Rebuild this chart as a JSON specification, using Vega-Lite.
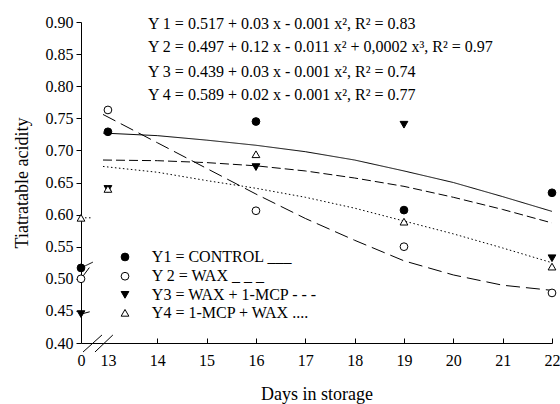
{
  "$schema": "https://vega.github.io/schema/vega-lite/v6.json",
  "autosize": {"type": "none"},
  "width": 471,
  "height": 321,
  "padding": {"left": 81, "top": 22, "right": 8, "bottom": 61},
  "background": "white",
  "config": {
    "font": "Liberation Serif",
    "view": {"stroke": null},
    "axis": {
      "labelFont": "Liberation Serif",
      "titleFont": "Liberation Serif",
      "labelFontSize": 16,
      "titleFontSize": 18,
      "titleFontWeight": "normal",
      "labelColor": "black",
      "titleColor": "black",
      "domainColor": "black",
      "tickColor": "black",
      "labelOverlap": false,
      "labelBound": false,
      "grid": false
    }
  },
  "datasets": {
    "pts": [
      {"day": 0, "acid": 0.517, "trt": "CONTROL"},
      {"day": 13, "acid": 0.729, "trt": "CONTROL"},
      {"day": 16, "acid": 0.745, "trt": "CONTROL"},
      {"day": 19, "acid": 0.607, "trt": "CONTROL"},
      {"day": 22, "acid": 0.634, "trt": "CONTROL"},
      {"day": 0, "acid": 0.500, "trt": "WAX"},
      {"day": 13, "acid": 0.763, "trt": "WAX"},
      {"day": 16, "acid": 0.606, "trt": "WAX"},
      {"day": 19, "acid": 0.550, "trt": "WAX"},
      {"day": 22, "acid": 0.478, "trt": "WAX"},
      {"day": 0, "acid": 0.445, "trt": "WAX + 1-MCP"},
      {"day": 13, "acid": 0.640, "trt": "WAX + 1-MCP"},
      {"day": 16, "acid": 0.674, "trt": "WAX + 1-MCP"},
      {"day": 19, "acid": 0.740, "trt": "WAX + 1-MCP"},
      {"day": 22, "acid": 0.532, "trt": "WAX + 1-MCP"},
      {"day": 0, "acid": 0.595, "trt": "1-MCP + WAX"},
      {"day": 13, "acid": 0.640, "trt": "1-MCP + WAX"},
      {"day": 16, "acid": 0.694, "trt": "1-MCP + WAX"},
      {"day": 19, "acid": 0.589, "trt": "1-MCP + WAX"},
      {"day": 22, "acid": 0.519, "trt": "1-MCP + WAX"}
    ],
    "fits": [
      {"day": 12.9, "acid": 0.727, "trt": "CONTROL"},
      {"day": 14, "acid": 0.723, "trt": "CONTROL"},
      {"day": 15, "acid": 0.716, "trt": "CONTROL"},
      {"day": 16, "acid": 0.708, "trt": "CONTROL"},
      {"day": 17, "acid": 0.698, "trt": "CONTROL"},
      {"day": 18, "acid": 0.685, "trt": "CONTROL"},
      {"day": 19, "acid": 0.668, "trt": "CONTROL"},
      {"day": 20, "acid": 0.650, "trt": "CONTROL"},
      {"day": 21, "acid": 0.628, "trt": "CONTROL"},
      {"day": 22, "acid": 0.605, "trt": "CONTROL"},
      {"day": 12.9, "acid": 0.756, "trt": "WAX"},
      {"day": 14, "acid": 0.712, "trt": "WAX"},
      {"day": 15, "acid": 0.672, "trt": "WAX"},
      {"day": 16, "acid": 0.632, "trt": "WAX"},
      {"day": 17, "acid": 0.594, "trt": "WAX"},
      {"day": 18, "acid": 0.560, "trt": "WAX"},
      {"day": 19, "acid": 0.528, "trt": "WAX"},
      {"day": 20, "acid": 0.506, "trt": "WAX"},
      {"day": 21, "acid": 0.490, "trt": "WAX"},
      {"day": 22, "acid": 0.482, "trt": "WAX"},
      {"day": 12.9, "acid": 0.685, "trt": "WAX + 1-MCP"},
      {"day": 14, "acid": 0.684, "trt": "WAX + 1-MCP"},
      {"day": 15, "acid": 0.681, "trt": "WAX + 1-MCP"},
      {"day": 16, "acid": 0.676, "trt": "WAX + 1-MCP"},
      {"day": 17, "acid": 0.668, "trt": "WAX + 1-MCP"},
      {"day": 18, "acid": 0.657, "trt": "WAX + 1-MCP"},
      {"day": 19, "acid": 0.644, "trt": "WAX + 1-MCP"},
      {"day": 20, "acid": 0.627, "trt": "WAX + 1-MCP"},
      {"day": 21, "acid": 0.608, "trt": "WAX + 1-MCP"},
      {"day": 22, "acid": 0.587, "trt": "WAX + 1-MCP"},
      {"day": 12.9, "acid": 0.675, "trt": "1-MCP + WAX"},
      {"day": 14, "acid": 0.666, "trt": "1-MCP + WAX"},
      {"day": 15, "acid": 0.653, "trt": "1-MCP + WAX"},
      {"day": 16, "acid": 0.641, "trt": "1-MCP + WAX"},
      {"day": 17, "acid": 0.627, "trt": "1-MCP + WAX"},
      {"day": 18, "acid": 0.610, "trt": "1-MCP + WAX"},
      {"day": 19, "acid": 0.590, "trt": "1-MCP + WAX"},
      {"day": 20, "acid": 0.570, "trt": "1-MCP + WAX"},
      {"day": 21, "acid": 0.548, "trt": "1-MCP + WAX"},
      {"day": 22, "acid": 0.525, "trt": "1-MCP + WAX"}
    ],
    "stubs": [
      {"day": 0, "acid": 0.517, "trt": "CONTROL"},
      {"day": 7, "acid": 0.526, "trt": "CONTROL"},
      {"day": 0, "acid": 0.500, "trt": "WAX"},
      {"day": 7, "acid": 0.525, "trt": "WAX"},
      {"day": 0, "acid": 0.445, "trt": "WAX + 1-MCP"},
      {"day": 7, "acid": 0.450, "trt": "WAX + 1-MCP"},
      {"day": 0, "acid": 0.595, "trt": "1-MCP + WAX"},
      {"day": 6, "acid": 0.595, "trt": "1-MCP + WAX"}
    ],
    "eqs": [
      {"day": 13.81, "acid": 0.897, "txt": "Y 1 = 0.517 + 0.03 x - 0.001 x²,  R² = 0.83"},
      {"day": 13.81, "acid": 0.861, "txt": "Y 2 = 0.497 + 0.12 x - 0.011 x² + 0,0002 x³,  R² = 0.97"},
      {"day": 13.81, "acid": 0.822, "txt": "Y 3 = 0.439 + 0.03 x - 0.001 x²,  R² = 0.74"},
      {"day": 13.81, "acid": 0.786, "txt": "Y 4 = 0.589 + 0.02 x - 0.001 x²,  R² = 0.77"}
    ],
    "keysym": [
      {"day": 13.346, "acid": 0.534, "trt": "CONTROL"},
      {"day": 13.346, "acid": 0.504, "trt": "WAX"},
      {"day": 13.346, "acid": 0.475, "trt": "WAX + 1-MCP"},
      {"day": 13.346, "acid": 0.447, "trt": "1-MCP + WAX"}
    ],
    "keytxt": [
      {"day": 13.89, "acid": 0.534, "txt": "Y1 = CONTROL ___"},
      {"day": 13.89, "acid": 0.504, "txt": "Y 2 = WAX _ _ _"},
      {"day": 13.89, "acid": 0.475, "txt": "Y3 = WAX + 1-MCP - - -"},
      {"day": 13.89, "acid": 0.447, "txt": "Y4 = 1-MCP + WAX ...."}
    ],
    "breaks": [
      {"day": 1.2, "acid": 0.386, "day2": 12.3, "acid2": 0.4125},
      {"day": 8.2, "acid": 0.386, "day2": 13.1, "acid2": 0.4125}
    ]
  },
  "encoding": {
    "x": {
      "field": "day",
      "type": "quantitative",
      "scale": {"domain": [0, 12.9, 22], "range": [0, 22, 471], "nice": false, "zero": false},
      "axis": {
        "title": "Days in storage",
        "values": [0, 13, 14, 15, 16, 17, 18, 19, 20, 21, 22],
        "labelFont": "Liberation Serif",
        "labelFontSize": 16,
        "labelOverlap": false,
        "tickSize": -5,
        "tickOpacity": {"expr": "datum.value < 14 ? 0 : 1"},
        "labelPadding": 14,
        "labelFlush": false,
        "titlePadding": 17
      }
    },
    "y": {
      "field": "acid",
      "type": "quantitative",
      "scale": {"domain": [0.4, 0.9], "nice": false, "zero": false},
      "axis": {
        "title": "Tiatratable acidity",
        "values": [0.4, 0.45, 0.5, 0.55, 0.6, 0.65, 0.7, 0.75, 0.8, 0.85, 0.9],
        "labelFont": "Liberation Serif",
        "labelFontSize": 16,
        "labelOverlap": false,
        "format": ".2f",
        "tickSize": 5,
        "labelPadding": 3,
        "titlePadding": 14
      }
    }
  },
  "layer": [
    {
      "data": {"name": "fits"},
      "mark": {"type": "line", "color": "black", "strokeWidth": 1},
      "encoding": {
        "detail": {"field": "trt"},
        "strokeDash": {
          "field": "trt",
          "type": "nominal",
          "scale": {
            "domain": ["CONTROL", "WAX", "WAX + 1-MCP", "1-MCP + WAX"],
            "range": [[1, 0], [14, 6], [9, 4], [1.5, 2.5]]
          },
          "legend": null
        }
      }
    },
    {
      "data": {"name": "stubs"},
      "mark": {"type": "line", "color": "black", "strokeWidth": 1},
      "encoding": {
        "detail": {"field": "trt"},
        "strokeDash": {"field": "trt", "type": "nominal", "legend": null}
      }
    },
    {
      "data": {"name": "pts"},
      "mark": {"type": "point", "filled": true, "stroke": "black", "strokeWidth": 1, "opacity": 1, "size": 60},
      "encoding": {
        "shape": {
          "field": "trt",
          "type": "nominal",
          "scale": {
            "domain": ["CONTROL", "WAX", "WAX + 1-MCP", "1-MCP + WAX"],
            "range": ["circle", "circle", "triangle-down", "triangle-up"]
          },
          "legend": null
        },
        "fill": {
          "field": "trt",
          "type": "nominal",
          "scale": {
            "domain": ["CONTROL", "WAX", "WAX + 1-MCP", "1-MCP + WAX"],
            "range": ["black", "white", "black", "white"]
          },
          "legend": null
        }
      }
    },
    {
      "data": {"name": "keysym"},
      "mark": {"type": "point", "filled": true, "stroke": "black", "strokeWidth": 1, "opacity": 1, "size": 60},
      "encoding": {
        "shape": {"field": "trt", "type": "nominal", "legend": null},
        "fill": {"field": "trt", "type": "nominal", "legend": null}
      }
    },
    {
      "data": {"name": "keytxt"},
      "mark": {"type": "text", "align": "left", "baseline": "middle", "fontSize": 16, "font": "Liberation Serif", "color": "black"},
      "encoding": {"text": {"field": "txt"}}
    },
    {
      "data": {"name": "eqs"},
      "mark": {"type": "text", "align": "left", "baseline": "middle", "fontSize": 16, "font": "Liberation Serif", "color": "black"},
      "encoding": {"text": {"field": "txt"}}
    },
    {
      "data": {"name": "breaks"},
      "mark": {"type": "rule", "color": "black", "strokeWidth": 1},
      "encoding": {
        "x2": {"field": "day2"},
        "y2": {"field": "acid2"}
      }
    }
  ]
}
